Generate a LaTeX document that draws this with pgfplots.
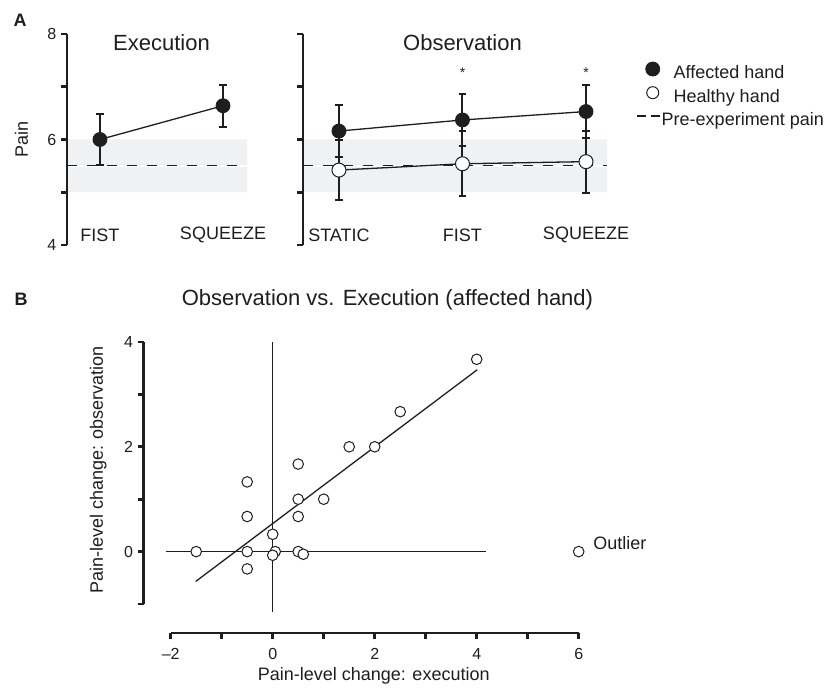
\documentclass[border=0pt]{standalone}
\usepackage{fontspec}
\setmainfont{Liberation Sans}
\usepackage{pgfplots}
\pgfplotsset{compat=1.18}
\definecolor{band}{RGB}{240,241,243}
\definecolor{ink}{RGB}{30,30,30}
\newcommand{\lab}{\fontsize{18pt}{20pt}\selectfont}
\newcommand{\ttl}{\fontsize{22pt}{24pt}\selectfont}
\newcommand{\tck}{\fontsize{16pt}{18pt}\selectfont}
\pgfplotsset{
  thickax/.style={every axis/.append style={line width=2.8pt},
    axis line style={line width=2.8pt, ink},
    every outer y axis line/.append style={line width=2.8pt},
    every outer x axis line/.append style={line width=2.8pt},
    tick style={line width=2.8pt, ink}, major tick style={line width=2.8pt, ink},
    tick align=outside, major tick length=6pt},
  yaxA/.style={scale only axis, height=211pt, width=10pt, ymin=4, ymax=8, xmin=0, xmax=1,
    axis y line*=left, axis x line=none,
    ytick={4,5,6,7,8}, thickax,
    yticklabel style={font=\tck, text=ink}},
  plotA/.style={scale only axis, height=211pt, ymin=4, ymax=8, axis lines=none, clip=false},
  aff/.style={ink, line width=1.3pt, mark=*, mark size=7pt,
    mark options={fill=ink, draw=ink, line width=0.8pt},
    error bars/.cd, y dir=both, y explicit,
    error bar style={line width=2pt, ink},
    error mark options={rotate=90, mark size=3.6pt, line width=2pt, ink}},
  hea/.style={ink, line width=1.3pt, mark=*, mark size=7pt,
    mark options={fill=white, draw=ink, line width=1pt},
    error bars/.cd, y dir=both, y explicit,
    error bar style={line width=2pt, ink},
    error mark options={rotate=90, mark size=3.6pt, line width=2pt, ink}},
}
\begin{document}
\begin{tikzpicture}
\useasboundingbox (0pt,0pt) rectangle (839pt,688pt);
\node[font=\lab\bfseries, text=ink] at (20pt,668pt) {A};
\node[font=\lab\bfseries, text=ink] at (21pt,389pt) {B};

% ---------- Panel A, Execution ----------
\begin{axis}[plotA, at={(67pt,443pt)}, anchor=south west, width=180pt,
  xmin=-0.268, xmax=1.195]
\addplot[fill=band, draw=none, forget plot] coordinates {(-0.268,5) (1.195,5) (1.195,6) (-0.268,6)} \closedcycle;
\addplot[white, line width=1.5pt, forget plot] coordinates {(-0.268,5.5) (1.195,5.5)};
\addplot[ink, line width=1pt, dash pattern=on 10pt off 10pt, forget plot] coordinates {(-0.268,5.5) (1.12,5.5)};
\addplot[forget plot, aff] coordinates {(0,6.00) +- (0,0.48) (1,6.64) +- (0,0.40)};
\node[font=\ttl, text=ink] at (axis cs:0.5,7.83) {Execution};
\node[font=\lab, text=ink] at (axis cs:0,4.19) {FIST};
\node[font=\lab, text=ink] at (axis cs:1,4.19) {SQUEEZE};
\end{axis}
\begin{axis}[yaxA, at={(67pt,443pt)}, anchor=south west, yticklabels={4,,6,,8},
  ylabel={Pain},
  every axis y label/.style={at={(axis description cs:-4.55,0.5)}, rotate=90, anchor=center, font=\lab, text=ink}]
\end{axis}

% ---------- Panel A, Observation ----------
\begin{axis}[plotA, at={(303pt,443pt)}, anchor=south west, width=304pt,
  xmin=-0.291, xmax=2.17,
  legend style={at={(axis description cs:1.095,0.87)}, anchor=north west,
    draw=none, fill=none, inner sep=0pt, row sep=1pt, font=\lab,
    nodes={inner sep=3pt, text height=12.7pt, text depth=3.6pt, text=ink}},
  legend cell align=left]
\addplot[fill=band, draw=none, forget plot] coordinates {(-0.291,5) (2.17,5) (2.17,6) (-0.291,6)} \closedcycle;
\addplot[white, line width=1.5pt, forget plot] coordinates {(-0.291,5.5) (2.17,5.5)};
\addplot[ink, line width=1pt, dash pattern=on 10pt off 10pt, forget plot] coordinates {(-0.291,5.5) (2.17,5.5)};
\addplot[forget plot, aff] coordinates {(0,6.16) +- (0,0.49) (1,6.37) +- (0,0.50) (2,6.53) +- (0,0.51)};
\addplot[forget plot, hea] coordinates {(0,5.42) +- (0,0.57) (1,5.54) +- (0,0.62) (2,5.58) +- (0,0.59)};
\addlegendimage{legend image code/.code={\path[draw=none] (0pt,0pt) -- (34pt,0pt); \draw[ink, fill=ink, line width=0.8pt] (16pt,5pt) circle (7pt);}}
\addlegendentry{Affected hand}
\addlegendimage{legend image code/.code={\path[draw=none] (0pt,0pt) -- (34pt,0pt); \draw[ink, fill=white, line width=1pt] (16pt,5pt) circle (6pt);}}
\addlegendentry{Healthy hand}
\addlegendimage{legend image code/.code={\path[draw=none] (0pt,0pt) -- (34pt,0pt); \draw[ink, line width=1.3pt, dash pattern=on 9pt off 5pt] (0pt,5pt) -- (23pt,5pt);}}
\addlegendentry{\hspace{-12pt}Pre-experiment pain}
\node[font=\ttl, text=ink] at (axis cs:1.0,7.83) {Observation};
\node[font=\fontsize{14pt}{15pt}\selectfont, text=ink] at (axis cs:1,7.26) {*};
\node[font=\fontsize{14pt}{15pt}\selectfont, text=ink] at (axis cs:2,7.26) {*};
\node[font=\lab, text=ink] at (axis cs:0,4.19) {STATIC};
\node[font=\lab, text=ink] at (axis cs:1,4.19) {FIST};
\node[font=\lab, text=ink] at (axis cs:2,4.19) {SQUEEZE};
\end{axis}
\begin{axis}[yaxA, at={(303pt,443pt)}, anchor=south west, yticklabels={}]
\end{axis}

% ---------- Panel B, detached y axis ----------
\begin{axis}[scale only axis, at={(143.7pt,84pt)}, anchor=south west, width=10pt, height=262pt,
  xmin=0, xmax=1, ymin=-1, ymax=4, axis y line*=left, axis x line=none,
  ytick={-1,0,1,2,3,4}, yticklabels={,0,,2,,4}, thickax,
  yticklabel style={font=\tck, text=ink}]
\end{axis}
% ---------- Panel B, detached x axis ----------
\begin{axis}[scale only axis, at={(170.7pt,55pt)}, anchor=south west, width=408pt, height=10pt,
  xmin=-2, xmax=6, ymin=0, ymax=1, axis x line*=bottom, axis y line=none,
  xtick={-2,-1,0,1,2,3,4,5,6}, xticklabels={\textendash2,,0,,2,,4,,6}, thickax,
  xticklabel style={font=\tck, text=ink, yshift=-5pt}]
\end{axis}

% ---------- Panel B, scatter ----------
\begin{axis}[scale only axis, at={(170.7pt,84pt)}, anchor=south west, width=408pt, height=262pt,
  xmin=-2, xmax=6, ymin=-1, ymax=4, axis lines=none, clip=false]
\addplot[ink, line width=1.3pt] coordinates {(0,-1.16) (0,4.0)};
\addplot[ink, line width=1.3pt] coordinates {(-2.1,0) (4.18,0)};
\addplot[ink, line width=1.3pt] coordinates {(-1.51,-0.57) (4.01,3.47)};
\addplot[only marks, mark=*, mark size=5.3pt, mark options={fill=white, draw=ink, line width=1pt}]
  coordinates {(-1.5,0) (-0.5,0) (-0.5,1.33) (-0.5,0.67) (-0.5,-0.33) (0,0.33) (0.05,0) (0,-0.07)
  (0.5,1.67) (0.5,1.0) (0.5,0.67) (0.5,0) (0.6,-0.05) (1.0,1.0) (1.5,2.0) (2.0,2.0) (2.5,2.67)
  (4.0,3.67) (6.0,0)};
\node[font=\lab, text=ink, anchor=west] at (axis cs:6.22,0.17) {Outlier};
\node[font=\ttl, text=ink] at (axis cs:2.25,4.80) {Observation vs. Execution (affected hand)};
\node[font=\lab, text=ink] at (axis cs:1.98,-2.38) {Pain-level change: execution};
\node[font=\lab, text=ink, rotate=90] at (axis cs:-3.42,1.56) {Pain-level change: observation};
\end{axis}
\end{tikzpicture}
\end{document}
